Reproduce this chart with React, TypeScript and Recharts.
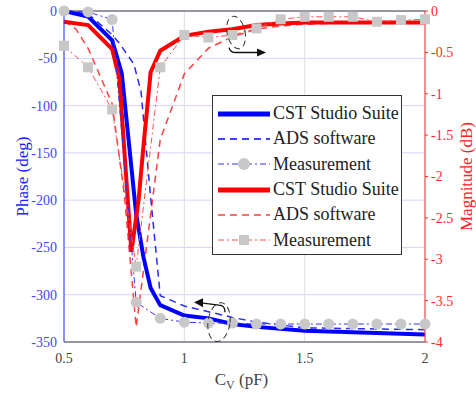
import { LineChart, Line, XAxis, YAxis, CartesianGrid, ReferenceLine, ReferenceDot } from "recharts";

const FONT = "'Liberation Serif', 'DejaVu Serif', serif";

// x axis (pF)
const xTicks = [0.5, 1, 1.5, 2];
const phaseTicks = [-350, -300, -250, -200, -150, -100, -50, 0];
const magTicks = [-4, -3.5, -3, -2.5, -2, -1.5, -1, -0.5, 0];

// phase (deg), left axis
const cstPhaseX = [0.5, 0.6, 0.7, 0.74, 0.8, 0.83, 0.86, 0.9, 1.0, 1.1, 1.2, 1.3, 1.5, 2.0];
const cstPhase = [0, -6, -31, -66, -215, -260, -293, -311, -322, -325, -331, -334, -338, -342];
const adsPhaseX = [0.5, 0.6, 0.7, 0.73, 0.79, 0.82, 0.86, 0.9, 1.0, 1.1, 1.2, 1.3, 1.5, 2.0];
const adsPhase = [0, -3, -25, -34, -56, -85, -197, -301, -312, -318, -324, -329, -335, -337];
const measX = [0.5, 0.6, 0.7, 0.8, 0.9, 1.0, 1.1, 1.2, 1.3, 1.4, 1.5, 1.6, 1.7, 1.8, 1.9, 2.0];
const measPhase = [0, -1, -9, -308, -325, -329, -330, -330, -331, -331, -331, -331, -331, -331, -331, -331];

// magnitude (dB), right axis
const cstMagX = [0.5, 0.6, 0.7, 0.73, 0.78, 0.81, 0.83, 0.86, 0.9, 1.0, 1.1, 1.2, 1.3, 1.4, 1.5, 2.0];
const cstMag = [-0.13, -0.17, -0.46, -0.82, -2.91, -2.28, -1.64, -0.74, -0.48, -0.3, -0.25, -0.22, -0.17, -0.15, -0.14, -0.14];
const adsMagX = [0.5, 0.55, 0.6, 0.7, 0.75, 0.8, 0.9, 1.0, 1.1, 1.2, 1.3, 1.4, 1.5, 1.6, 2.0];
const adsMag = [-0.12, -0.22, -0.45, -1.12, -2.2, -3.82, -1.55, -0.76, -0.45, -0.31, -0.22, -0.18, -0.16, -0.15, -0.14];
const measMag = [-0.42, -0.68, -1.19, -3.09, -0.68, -0.29, -0.32, -0.29, -0.21, -0.1, -0.07, -0.07, -0.07, -0.13, -0.11, -0.1];

const legendNames = ["CST Studio Suite", "ADS software", "Measurement", "CST Studio Suite", "ADS software", "Measurement"];

const pts = (xs: number[], ys: number[]) => xs.map((x, i) => ({ x, y: ys[i] }));

const BLUE = "#0000ff";
const RED = "#ff0000";
const MARK = "#c8c8c8";

const square = (p: any) => (
  <rect key={`sq-${p.index}`} x={p.cx - 5} y={p.cy - 5} width={10} height={10} fill={MARK} />
);

// dashed ellipse + arrow marking which axis a group belongs to
const marker = (dir: number) => (p: any) => {
  const { cx, cy } = p;
  if (dir > 0) {
    return (
      <g>
        <ellipse cx={cx} cy={cy} rx={9} ry={16.5} fill="none" stroke="#333" strokeDasharray="6 4" transform={`rotate(-12 ${cx} ${cy})`} />
        <path d={`M${cx - 7} ${cy + 15} Q${cx - 6} ${cy + 20} ${cx} ${cy + 20} L${cx + 22} ${cy + 20}`} fill="none" stroke="#111" strokeWidth={1.3} />
        <path d={`M${cx + 30} ${cy + 20} L${cx + 21} ${cy + 16} L${cx + 21} ${cy + 24} Z`} fill="#111" />
      </g>
    );
  }
  return (
    <g>
      <ellipse cx={cx} cy={cy} rx={11} ry={19.5} fill="none" stroke="#333" strokeDasharray="6 4" transform={`rotate(8 ${cx} ${cy})`} />
      <path d={`M${cx + 6} ${cy - 10} Q${cx + 6} ${cy - 17} ${cx} ${cy - 17} L${cx - 16} ${cy - 19}`} fill="none" stroke="#111" strokeWidth={1.3} />
      <path d={`M${cx - 25} ${cy - 20} L${cx - 16} ${cy - 24} L${cx - 16} ${cy - 15} Z`} fill="#111" />
    </g>
  );
};

function LegendBox() {
  const rows = [
    { color: BLUE, width: 5, dash: undefined, mark: "" },
    { color: BLUE, width: 1.5, dash: "7 5", mark: "" },
    { color: "#3333ff", width: 1, dash: "6 3 2 3", mark: "circle" },
    { color: RED, width: 5, dash: undefined, mark: "" },
    { color: "#ff4040", width: 1.5, dash: "7 5", mark: "" },
    { color: "#ff5050", width: 1, dash: "6 3 2 3", mark: "square" },
  ];
  return (
    <div
      style={{
        position: "absolute",
        left: 212,
        top: 95,
        width: 190,
        height: 160,
        boxSizing: "border-box",
        border: "1px solid #333",
        background: "#fff",
        paddingTop: 5,
      }}
    >
      {rows.map((r, i) => (
        <div key={i} style={{ display: "flex", alignItems: "center", height: 25.3 }}>
          <svg width={56} height={20} style={{ marginLeft: 4, flex: "none" }}>
            <line x1={1} y1={10} x2={53} y2={10} stroke={r.color} strokeWidth={r.width} strokeDasharray={r.dash} />
            {r.mark === "circle" && <circle cx={27} cy={10} r={6} fill={MARK} />}
            {r.mark === "square" && <rect x={22} y={5} width={10} height={10} fill={MARK} />}
          </svg>
          <span style={{ fontFamily: FONT, fontSize: 18, color: "#222", whiteSpace: "nowrap" }}>{legendNames[i]}</span>
        </div>
      ))}
    </div>
  );
}

export default function App() {
  return (
    <div style={{ position: "absolute", left: 0, top: 0, width: 476, height: 396, background: "#fff", fontFamily: FONT }}>
      <LineChart width={476} height={396} margin={{ top: 11, right: 0, bottom: 0, left: 0 }}>
        <CartesianGrid yAxisId="phase" vertical={false} stroke="#d4d4ff" />
        <CartesianGrid yAxisId="phase" horizontal={false} stroke="#dddddd" />
        <XAxis
          type="number"
          dataKey="x"
          domain={[0.5, 2]}
          ticks={xTicks}
          height={54}
          axisLine={{ stroke: "#444" }}
          tickLine={false}
          tickSize={0}
          tickMargin={11}
          tick={{ fill: "#444", fontSize: 14, fontFamily: FONT }}
          label={(p: any) => {
            const vb = p.viewBox || { x: 64, y: 342, width: 361 };
            return (
              <text x={vb.x + vb.width / 2 - 3} y={vb.y + 43} textAnchor="middle" fill="#444" fontFamily={FONT} fontSize={17}>
                C<tspan dy={4} fontSize={12}>V</tspan>
                <tspan dy={-4}> (pF)</tspan>
              </text>
            );
          }}
        />
        <YAxis
          yAxisId="phase"
          domain={[-350, 0]}
          ticks={phaseTicks}
          width={64}
          axisLine={{ stroke: "#3030ff" }}
          tickLine={false}
          tickSize={0}
          tickMargin={7}
          tick={{ fill: "#4545ff", fontSize: 14, fontFamily: FONT }}
          label={(p: any) => {
            const vb = p.viewBox || { x: 0, y: 11, height: 331 };
            const cy = vb.y + vb.height / 2;
            return (
              <text x={0} y={0} transform={`translate(22 ${cy}) rotate(-90)`} textAnchor="middle" dominantBaseline="central" fill="#2020ff" fontFamily={FONT} fontSize={17}>
                Phase (deg)
              </text>
            );
          }}
        />
        <YAxis
          yAxisId="mag"
          orientation="right"
          domain={[-4, 0]}
          ticks={magTicks}
          width={51}
          axisLine={{ stroke: "#ff3030" }}
          tickLine={{ stroke: "#ff3030" }}
          tickSize={3}
          tickMargin={3}
          tick={{ fill: "#ff2a2a", fontSize: 14, fontFamily: FONT }}
          label={(p: any) => {
            const vb = p.viewBox || { x: 425, y: 11, height: 331 };
            const cy = vb.y + vb.height / 2;
            return (
              <text x={0} y={0} transform={`translate(${vb.x + 41} ${cy}) rotate(-90)`} textAnchor="middle" dominantBaseline="central" fill="#ff2020" fontFamily={FONT} fontSize={17}>
                Magnitude (dB)
              </text>
            );
          }}
        />
        <ReferenceLine yAxisId="phase" y={0} stroke="#444" />

        <Line yAxisId="mag" data={pts(adsMagX, adsMag)} dataKey="y" stroke="#ff4040" strokeWidth={1.5} strokeDasharray="7 5" dot={false} isAnimationActive={false} />
        <Line yAxisId="phase" data={pts(adsPhaseX, adsPhase)} dataKey="y" stroke="#2a2aff" strokeWidth={1.5} strokeDasharray="7 5" dot={false} isAnimationActive={false} />
        <Line yAxisId="phase" data={pts(cstPhaseX, cstPhase)} dataKey="y" stroke={BLUE} strokeWidth={4} dot={false} isAnimationActive={false} />
        <Line yAxisId="mag" data={pts(cstMagX, cstMag)} dataKey="y" stroke={RED} strokeWidth={4} dot={false} isAnimationActive={false} />
        <Line yAxisId="phase" data={pts(measX, measPhase)} dataKey="y" stroke="#3333ff" strokeWidth={1} strokeDasharray="6 3 2 3" dot={{ r: 5.5, fill: MARK, stroke: "none" }} isAnimationActive={false} />
        <Line yAxisId="mag" data={pts(measX, measMag)} dataKey="y" stroke="#ff5050" strokeWidth={1} strokeDasharray="6 3 2 3" dot={square} isAnimationActive={false} />

        <ReferenceDot yAxisId="mag" x={1.215} y={-0.26} r={0} shape={marker(1)} />
        <ReferenceDot yAxisId="phase" x={1.144} y={-329} r={0} shape={marker(-1)} />
      </LineChart>
      <LegendBox />
    </div>
  );
}
